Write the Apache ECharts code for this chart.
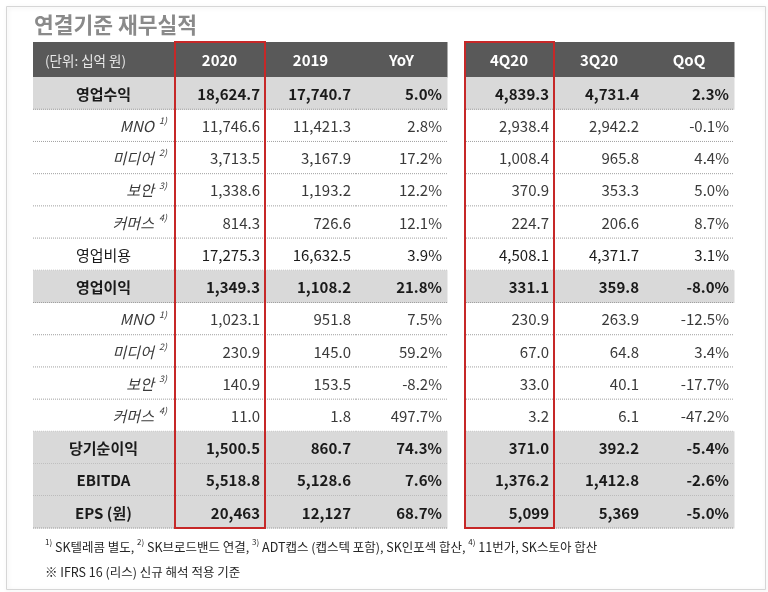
<!DOCTYPE html>
<html><head><meta charset="utf-8">
<script src="https://cdn.jsdelivr.net/npm/echarts@6/dist/echarts.min.js"></script>
<style>html,body{margin:0;padding:0;background:#fff}#c{width:768px;height:592px}</style>
</head><body><div id="c"></div>
<script>
// ---------- data ----------
const titleText = '연결기준 재무실적';
const unitLabel = '(단위: 십억 원)';
const headersYear = ['2020', '2019', 'YoY'];
const headersQuarter = ['4Q20', '3Q20', 'QoQ'];
const rowLabels = ['영업수익', 'MNO', '미디어', '보안', '커머스', '영업비용', '영업이익', 'MNO', '미디어', '보안', '커머스', '당기순이익', 'EBITDA', 'EPS (원)'];
const rowNotes = ['', '1)', '2)', '3)', '4)', '', '', '1)', '2)', '3)', '4)', '', '', ''];
const rowKinds = ['total', 'sub', 'sub', 'sub', 'sub', 'plain', 'total', 'sub', 'sub', 'sub', 'sub', 'total', 'total', 'total'];
const rowDecimals = [1, 1, 1, 1, 1, 1, 1, 1, 1, 1, 1, 1, 1, 0];
const val2020 = [18624.7, 11746.6, 3713.5, 1338.6, 814.3, 17275.3, 1349.3, 1023.1, 230.9, 140.9, 11.0, 1500.5, 5518.8, 20463];
const val2019 = [17740.7, 11421.3, 3167.9, 1193.2, 726.6, 16632.5, 1108.2, 951.8, 145.0, 153.5, 1.8, 860.7, 5128.6, 12127];
const yoy = [5.0, 2.8, 17.2, 12.2, 12.1, 3.9, 21.8, 7.5, 59.2, -8.2, 497.7, 74.3, 7.6, 68.7];
const val4Q20 = [4839.3, 2938.4, 1008.4, 370.9, 224.7, 4508.1, 331.1, 230.9, 67.0, 33.0, 3.2, 371.0, 1376.2, 5099];
const val3Q20 = [4731.4, 2942.2, 965.8, 353.3, 206.6, 4371.7, 359.8, 263.9, 64.8, 40.1, 6.1, 392.2, 1412.8, 5369];
const qoq = [2.3, -0.1, 4.4, 5.0, 8.7, 3.1, -8.0, -12.5, 3.4, -17.7, -47.2, -5.4, -2.6, -5.0];
const footnoteParts = [['1)', 'SK텔레콤 별도, '], ['2)', 'SK브로드밴드 연결, '], ['3)', 'ADT캡스 (캡스텍 포함), SK인포섹 합산, '], ['4)', '11번가, SK스토아 합산']];
const footnote2 = '※ IFRS 16 (리스) 신규 해석 적용 기준';

// ---------- layout / style ----------
const FONT = '"Noto Sans CJK KR", "Noto Sans", sans-serif';
const HEADER_UNITS = 35 / 32.2;
const NROWS = rowLabels.length;
const C = { header: '#595959', total: '#d9d9d9', red: '#c62828', sep: '#a0a0a0', text: '#1a1a1a', sub: '#3a3a3a' };

function fmtNum(v, d) {
  return v.toLocaleString('en-US', { minimumFractionDigits: d, maximumFractionDigits: d });
}
function fmtPct(v) { return v.toFixed(1) + '%'; }

function buildCells(cols, headers, withLabel) {
  const cells = [];
  if (withLabel) {
    cells.push({ value: [0, -HEADER_UNITS, 0], text: unitLabel, kind: 'header', align: 'left', unit: true });
    rowLabels.forEach((lab, r) => {
      const k = rowKinds[r];
      let text = lab;
      let align = 'center';
      if (k === 'sub') { text = '{i|' + lab + '}{s|' + rowNotes[r] + '}'; align = 'right'; }
      cells.push({ value: [0, r, r + 1], text, kind: k, align, label: true });
    });
  } else {
    headers.forEach((h, c) => cells.push({ value: [c, -HEADER_UNITS, 0], text: h, kind: 'header', align: 'center' }));
    cols.forEach((col, c) => {
      col.arr.forEach((v, r) => {
        const text = col.pct ? fmtPct(v) : fmtNum(v, rowDecimals[r]);
        cells.push({ value: [c, r, r + 1], text, kind: rowKinds[r], align: 'right' });
      });
    });
  }
  return cells;
}

function makeRender(cells) {
  return function (params, api) {
    const cell = cells[params.dataIndex];
    const c = api.value(0), r0 = api.value(1), r1 = api.value(2);
    const p0 = api.coord([c, r0]);
    const p1 = api.coord([c + 1, r1]);
    const x = p0[0], y = p0[1], w = p1[0] - p0[0], h = p1[1] - p0[1];
    const children = [];
    let fill = null;
    if (cell.kind === 'header') fill = C.header;
    else if (cell.kind === 'total') fill = C.total;
    if (fill) children.push({ type: 'rect', shape: { x, y, width: w + 0.5, height: h + 0.5 }, style: { fill } });
    if (cell.kind !== 'header') {
      children.push({ type: 'line', shape: { x1: x, y1: y + h, x2: x + w, y2: y + h }, style: { stroke: C.sep, lineWidth: 1, lineDash: [1, 1] } });
    }
    const isHeader = cell.kind === 'header';
    const bold = isHeader ? !cell.unit : cell.kind === 'total';
    let tx = x + w / 2;
    if (cell.align === 'right') tx = x + w - (cell.label ? 7 : 5);
    if (cell.align === 'left') tx = x + 12;
    children.push({
      type: 'text',
      style: {
        text: cell.text,
        x: tx, y: y + h / 2 + 1,
        align: cell.align, verticalAlign: 'middle',
        fontFamily: FONT,
        fontSize: cell.unit ? 13.5 : 15,
        fontWeight: bold ? 'bold' : 'normal',
        fill: isHeader ? (cell.unit ? '#e8e8e8' : '#ffffff') : (cell.kind === 'sub' ? C.sub : C.text),
        rich: {
          i: { fontFamily: FONT, fontSize: 15, fontStyle: 'italic', fill: C.sub, color: C.sub, lineHeight: 20 },
          s: { fontFamily: FONT, fontSize: 9, fontStyle: 'italic', fill: C.sub, color: C.sub, verticalAlign: 'top', lineHeight: 20, padding: [0, 0, 8, 5] }
        }
      },
      z2: 10
    });
    return { type: 'group', children };
  };
}

function boxRender(params, api) {
  const c = api.value(0);
  const p0 = api.coord([c, api.value(1)]);
  const p1 = api.coord([c + 1, api.value(2)]);
  return { type: 'rect', shape: { x: p0[0] + 1, y: p0[1], width: p1[0] - p0[0] - 1, height: p1[1] - p0[1] }, style: { fill: 'none', stroke: C.red, lineWidth: 2 }, z2: 50 };
}

const cellsLabel = buildCells(null, null, true);
const cellsYear = buildCells([{ arr: val2020 }, { arr: val2019 }, { arr: yoy, pct: true }], headersYear, false);
const cellsQuarter = buildCells([{ arr: val4Q20 }, { arr: val3Q20 }, { arr: qoq, pct: true }], headersQuarter, false);

const grids = [
  { left: 33, top: 42, width: 141, height: 486 },
  { left: 174, top: 42, width: 273, height: 486 },
  { left: 464, top: 42, width: 270, height: 486 }
];
const xMax = [1, 3, 3];

const chart = echarts.init(document.getElementById('c'), null, { renderer: 'canvas' });
chart.setOption({
  backgroundColor: '#ffffff',
  animation: false,
  title: { text: titleText, left: 29, top: 9, textStyle: { fontFamily: FONT, fontSize: 21.5, fontWeight: 'bold', color: '#8a8a8a' } },
  grid: grids,
  xAxis: grids.map((g, i) => ({ type: 'value', gridIndex: i, min: 0, max: xMax[i], show: false })),
  yAxis: grids.map((g, i) => ({ type: 'value', gridIndex: i, min: -HEADER_UNITS, max: NROWS, inverse: true, show: false })),
  graphic: [
    { type: 'rect', left: 4, top: 4, shape: { width: 759, height: 583 }, style: { fill: 'none', stroke: '#d6d6d6', lineWidth: 1, shadowBlur: 4, shadowColor: 'rgba(0,0,0,0.12)', shadowOffsetX: 1, shadowOffsetY: 1 }, silent: true, z: -1 },
    {
      type: 'text', left: 45, top: 538,
      style: {
        text: footnoteParts.map(p => '{s|' + p[0] + '}{t| ' + p[1] + '}').join(''),
        fontFamily: FONT, fontSize: 12.5, fill: '#262626',
        rich: {
          s: { fontFamily: FONT, fontSize: 8, fill: '#262626', color: '#262626', verticalAlign: 'top', lineHeight: 18, padding: [0, 0, 6, 0] },
          t: { fontFamily: FONT, fontSize: 12.5, fill: '#262626', color: '#262626', lineHeight: 18 }
        }
      }
    },
    { type: 'text', left: 45, top: 566, style: { text: footnote2, fontFamily: FONT, fontSize: 12.5, fill: '#262626' } }
  ],
  series: [
    { type: 'custom', xAxisIndex: 0, yAxisIndex: 0, renderItem: makeRender(cellsLabel), data: cellsLabel.map(c => c.value), clip: false },
    { type: 'custom', xAxisIndex: 1, yAxisIndex: 1, renderItem: makeRender(cellsYear), data: cellsYear.map(c => c.value), clip: false },
    { type: 'custom', xAxisIndex: 2, yAxisIndex: 2, renderItem: makeRender(cellsQuarter), data: cellsQuarter.map(c => c.value), clip: false },
    { type: 'custom', xAxisIndex: 1, yAxisIndex: 1, renderItem: boxRender, data: [[0, -HEADER_UNITS, NROWS]], clip: false, z: 5 },
    { type: 'custom', xAxisIndex: 2, yAxisIndex: 2, renderItem: boxRender, data: [[0, -HEADER_UNITS, NROWS]], clip: false, z: 5 }
  ]
});
</script></body></html>
